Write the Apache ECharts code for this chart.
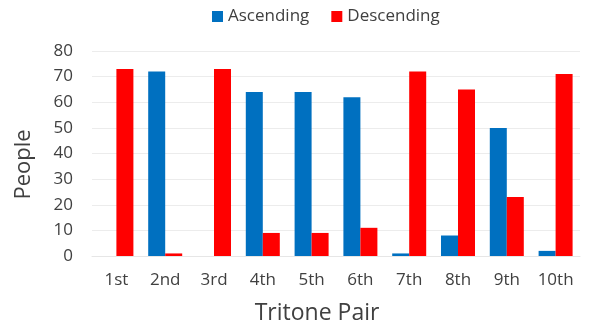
<!DOCTYPE html>
<html>
<head>
<meta charset="utf-8">
<script src="https://cdn.jsdelivr.net/npm/echarts@6/dist/echarts.min.js"></script>
<style>
html,body{margin:0;padding:0;background:#fff;}
#main{width:601px;height:330px;}
</style>
</head>
<body>
<div id="main"></div>
<script>
// data
var categories = ['1st','2nd','3rd','4th','5th','6th','7th','8th','9th','10th'];
var ascending  = [0, 72, 0, 64, 64, 62, 1, 8, 50, 2];
var descending = [73, 1, 73, 9, 9, 11, 72, 65, 23, 71];
var yTicks = [0, 10, 20, 30, 40, 50, 60, 70, 80];

var chart = echarts.init(document.getElementById('main'));
var font = '"Open Sans", "Noto Sans", sans-serif';

var option = {
    animation: false,
    textStyle: {fontFamily: font},
    legend: {
        top: 3,
        left: 207,
        itemWidth: 11,
        itemHeight: 11,
        itemGap: 22,
        icon: 'rect',
        textStyle: {fontSize: 17, color: '#404040', fontFamily: font},
        data: ['Ascending', 'Descending']
    },
    grid: {left: 92, right: 21, top: 51, bottom: 70},
    xAxis: {
        type: 'category',
        data: categories,
        name: 'Tritone Pair',
        nameLocation: 'middle',
        nameGap: 46,
        nameTextStyle: {fontSize: 23, color: '#404040', fontFamily: font, padding: [0, 38, 0, 0]},
        axisLine: {show: true, lineStyle: {color: '#e6e6e6'}},
        axisTick: {show: false},
        axisLabel: {fontSize: 17, color: '#404040', margin: 16, fontFamily: font}
    },
    yAxis: {
        type: 'value',
        min: yTicks[0],
        max: yTicks[yTicks.length - 1],
        interval: 10,
        name: 'People',
        nameLocation: 'middle',
        nameGap: 57,
        nameTextStyle: {fontSize: 22, color: '#404040', fontFamily: font, padding: [0, 22, 0, 0]},
        axisLine: {show: false},
        axisTick: {show: false},
        axisLabel: {fontSize: 17, color: '#404040', margin: 19, fontFamily: font},
        splitLine: {lineStyle: {color: '#ececec'}}
    },
    series: [
        {
            name: 'Ascending',
            type: 'bar',
            data: ascending,
            barWidth: 17,
            barGap: '0%',
            itemStyle: {color: '#0070C0'}
        },
        {
            name: 'Descending',
            type: 'bar',
            data: descending,
            barWidth: 17,
            barGap: '0%',
            itemStyle: {color: '#FF0000'}
        }
    ]
};
chart.setOption(option);
</script>
</body>
</html>
